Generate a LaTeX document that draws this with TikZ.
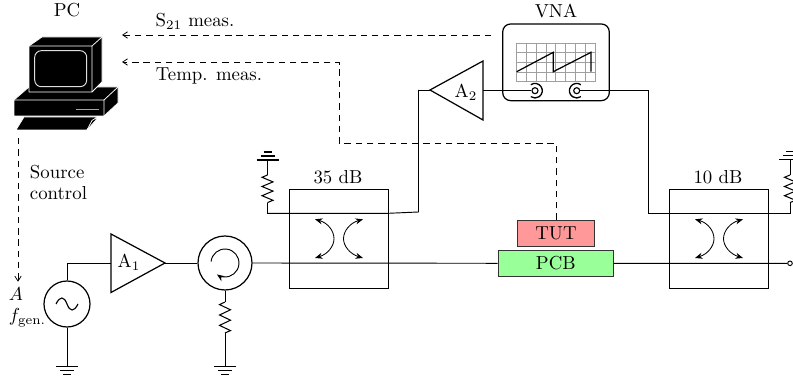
\documentclass[tikz,border=0pt]{standalone}
\usetikzlibrary{arrows.meta,calc}
\tikzset{
  wire/.style={line width=0.5pt,line join=miter},
  boxed/.style={draw,line width=0.65pt},
  ctrl/.style={line width=0.4pt,dash pattern=on 3.4pt off 2.6pt,-{Straight Barb[length=2.6pt,width=3.4pt]}},
  bitip/.style={line width=0.45pt,{Stealth[length=4pt,width=3.2pt]}-{Stealth[length=4pt,width=3.2pt]}},
  amp/.style={draw,line width=0.65pt},
  lbl/.style={inner sep=0pt,outer sep=0pt},
  pcfill/.style={fill=black,draw=white,line width=0.4pt,line join=round},
  gnddown/.pic={\draw[line width=0.55pt] (-11,0)--(11,0) (-7,3.6)--(7,3.6) (-4,7.4)--(4,7.4);},
  gndup/.pic={\draw[line width=0.55pt] (-11,0)--(11,0) (-7,-4)--(7,-4) (-4,-8)--(4,-8);},
  zig/.pic={\draw[line width=0.55pt] (0,0)--(-5.5,2.6)--(5.5,7.8)--(-5.5,13)--(5.5,18.2)--(-5.5,23.4)--(5.5,28.6)--(0,31);},
  zigs/.pic={\draw[line width=0.55pt] (0,0)--(-5.5,2.3)--(5.5,6.9)--(-5.5,11.5)--(5.5,16.1)--(-5.5,20.7)--(5.5,25.3)--(0,27.6);},
}
\begin{document}
\begin{tikzpicture}[x=0.532pt,y=-0.532pt]
\useasboundingbox (0,0) rectangle (793,383);
\clip (0,0) rectangle (793,383);

% PC icon
\filldraw[pcfill] (14,100)--(29,87)--(118,87)--(118,103)--(104,116)--(14,116)--cycle;
\draw[white,line width=0.4pt] (14,100)--(104,100)--(118,87) (104,100)--(104,116);
\draw[gray!70,line width=0.9pt] (76,109.5)--(99,109.5);
\filldraw[pcfill] (29,46)--(42,37)--(102,37)--(102,82)--(92,92)--(29,92)--cycle;
\draw[white,line width=0.4pt] (29,46)--(92,46)--(102,37) (92,46)--(92,92);
\draw[gray!25,line width=0.5pt,rounded corners=3.5pt] (34.7,50.7) rectangle (86.7,86.7);
\filldraw[pcfill] (16,130)--(24,117)--(96,117)--(96,120)--(87,130)--cycle;
\draw[white,line width=0.4pt] (87,130)--(92,120.5)--(96,118);
\coordinate (pcs) at (122,35);
\coordinate (pct) at (122,62);
\coordinate (pcbot) at (18,138);
\node[lbl] (pclabel) at (67,10.5) {PC};

% Source
\node[draw,circle,line width=0.65pt,minimum size=46*0.532pt,inner sep=0pt] (src) at (67,304) {};
\draw[line width=0.6pt] (56,304) .. controls (60,296) and (64,296) .. (67,304) .. controls (70,312) and (74,312) .. (78,304);
\coordinate (srcg) at (67,366.7);
\draw[wire] (src.south)--(srcg);
\pic at (srcg) {gnddown};
\node[lbl] (aLabel) at (16,294) {$A$};
\node[lbl,anchor=west] (fLabel) at (9,317.5) {$f_{\mathrm{gen.}}$};

% A1
\coordinate (a1a) at (111,234);
\coordinate (a1b) at (111,292.5);
\coordinate (a1c) at (165,263);
\draw[amp] (a1a)--(a1c)--(a1b)--cycle;
\node[lbl] (a1) at (129,262.5) {A$_1$};
\coordinate (a1in) at (111,263);
\draw[wire] (src.north)--(67,263)--(a1in);

% Circulator
\node[draw,circle,line width=0.65pt,minimum size=54*0.532pt,inner sep=0pt] (circ) at (225,263) {};
\draw[wire] (a1c)--(circ.west);
\draw[line width=0.5pt,-{Stealth[length=4pt,width=3.2pt]}] (circ.center) ++(-174:14) arc[start angle=-174,end angle=125,radius=14];
\coordinate (cr1) at (225,302);
\coordinate (cr2) at (225,333);
\coordinate (cg) at (225,366.7);
\draw[wire] (circ.south)--(cr1) (cr2)--(cg);
\pic at (cr1) {zig};
\pic at (cg) {gnddown};

% Coupler 35 dB
\node[boxed,minimum width=99*0.532pt,minimum height=99*0.532pt,inner sep=0pt] (c35) at (338.7,238.7) {};
\node[lbl] (c35l) at (338,177) {35 dB};
\draw[bitip] (315,219.3) .. controls (328,223) and (334,231) .. (334,238.7) .. controls (334,246) and (328,254) .. (315,258);
\draw[bitip] (363,219.3) .. controls (350,223) and (343.5,231) .. (343.5,238.7) .. controls (343.5,246) and (350,254) .. (363,258);

% Coupler 10 dB
\node[boxed,minimum width=99*0.532pt,minimum height=99*0.532pt,inner sep=0pt] (c10) at (718.7,238.7) {};
\node[lbl] (c10l) at (718,177) {10 dB};
\draw[bitip] (695,219.3) .. controls (708,223) and (714,231) .. (714,238.7) .. controls (714,246) and (708,254) .. (695,258);
\draw[bitip] (743,219.3) .. controls (730,223) and (723.5,231) .. (723.5,238.7) .. controls (723.5,246) and (730,254) .. (743,258);

% DUT
\node[draw=black!80,fill=red!40,line width=0.6pt,minimum width=76.5*0.532pt,minimum height=26.4*0.532pt,inner sep=0pt] (tut) at (556,233.5) {TUT};
\node[draw=black!80,fill=green!40,line width=0.6pt,minimum width=115*0.532pt,minimum height=26*0.532pt,inner sep=0pt] (pcbd) at (555.8,263.3) {PCB};

% Main line
\node[draw,circle,line width=0.5pt,minimum size=4.6*0.532pt,inner sep=0pt] (out) at (790,263.3) {};
\draw[wire] (circ.east)--(pcbd.west) (pcbd.east)--(out.west);

% Upper coupler lines
\coordinate (l1) at (267.5,213.3);
\coordinate (l2) at (388.3,213.3);
\coordinate (l3) at (418.5,212);
\coordinate (l4) at (418.5,90);
\coordinate (r35a) at (267.5,203);
\coordinate (r35b) at (267.5,175);
\coordinate (g35) at (267.5,160);
\draw[wire] (g35)--(r35b);
\pic at (r35b) {zigs};
\draw[wire] (r35a)--(l1)--(l2)--(l3)--(l4);
\pic at (g35) {gndup};

% A2
\coordinate (a2a) at (483,61);
\coordinate (a2b) at (483,120);
\coordinate (a2c) at (430,90);
\draw[amp] (a2a)--(a2c)--(a2b)--cycle;
\node[lbl] (a2) at (466,92) {A$_2$};
\draw[wire] (l4)--(a2c);

% VNA
\node[draw,rounded corners=8*0.532pt,line width=0.65pt,minimum width=106.6*0.532pt,minimum height=76.7*0.532pt,inner sep=0pt] (vna) at (556,62.3) {};
\node[lbl] (vnal) at (556,11) {VNA};
\coordinate (gr1) at (516.7,43.3);
\foreach \i in {0,...,8} \draw[gray!75,line width=0.5pt] ($(gr1)+(\i*9.8,0)$)--++(0,38.4);
\foreach \i in {0,...,4} \draw[gray!75,line width=0.5pt] ($(gr1)+(0,\i*9.6)$)--++(78.4,0);
\draw[line width=0.65pt,line join=miter] (516.7,71.7)--(553.3,52.3)--(553.3,71.7)--(591,52.3)--(591,71.7);
\node[draw,circle,line width=0.6pt,minimum size=6*0.532pt,inner sep=0pt] (p1) at (535,90.7) {};
\node[draw,circle,line width=0.6pt,minimum size=6*0.532pt,inner sep=0pt] (p2) at (576.7,90.7) {};
\draw[line width=0.7pt] (p1.center) ++(-125:7.3) arc[start angle=-125,end angle=125,radius=7.3];
\draw[line width=0.7pt] (p2.center) ++(-55:7.3) arc[start angle=-55,end angle=-305,radius=7.3];
\coordinate (r10a) at (648.3,90.7);
\coordinate (r10b) at (648.3,213.7);
\coordinate (r10c) at (790,213.7);
\coordinate (r10d) at (790,202.6);
\coordinate (r10e) at (790,175);
\coordinate (g10) at (790,159.3);
\draw[wire] (a2b|-p1)--(p1.west);
\draw[wire] (p2.east)--(r10a)--(r10b)--(r10c)--(r10d);
\pic at (r10e) {zigs};
\draw[wire] (r10e)--(g10);
\pic at (g10) {gndup};

% Dashed control lines
\coordinate (vnas) at (491,35);
\draw[ctrl] (vnas)--(pcs);
\node[lbl] (s21) at (195,21) {S$_{21}$ meas.};
\draw[ctrl] (tut.north)--(556,143)--(339,143)--(339,62)--(pct);
\node[lbl] (temp) at (209,76) {Temp. meas.};
\coordinate (srcin) at (18,281.7);
\draw[ctrl] (pcbot)--(srcin);
\node[lbl,anchor=west] (srcl1) at (30,172) {Source};
\node[lbl,anchor=west] (srcl2) at (30,193) {control};
\end{tikzpicture}
\end{document}
